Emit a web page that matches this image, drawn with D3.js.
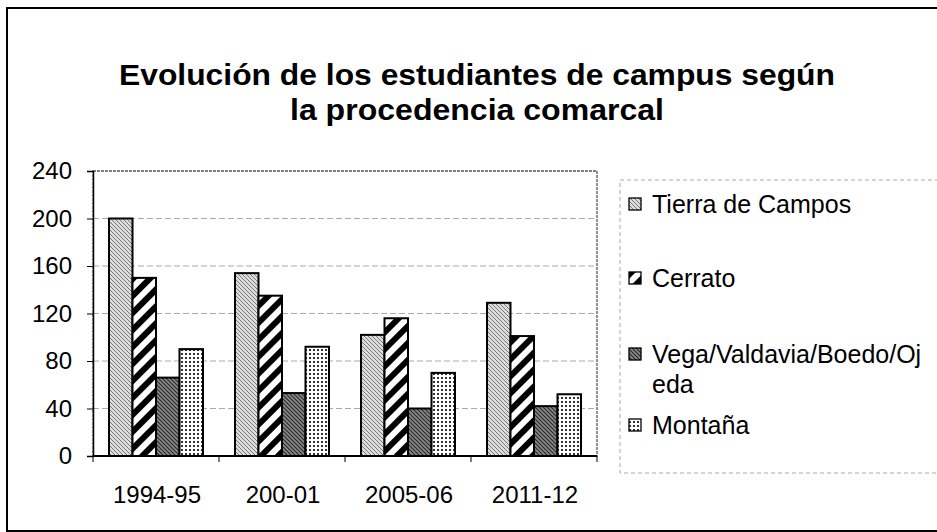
<!DOCTYPE html>
<html><head><meta charset="utf-8">
<script src="https://cdn.jsdelivr.net/npm/d3@7/dist/d3.min.js"></script>
<style>body{margin:0;background:#fff}svg{display:block}text{font-family:"Liberation Sans",Arial,sans-serif}</style>
</head><body><svg id="c" width="937" height="532"></svg>
<script>
const titleLines = ["Evolución de los estudiantes de campus según", "la procedencia comarcal"];
const categories = ["1994-95", "200-01", "2005-06", "2011-12"];
const seriesNames = ["Tierra de Campos", "Cerrato", "Vega/Valdavia/Boedo/Ojeda", "Montaña"];
const legendLines = [["Tierra de Campos"], ["Cerrato"], ["Vega/Valdavia/Boedo/Oj", "eda"], ["Montaña"]];
const tierra = [200, 154, 102, 129];
const cerrato = [150, 135, 116, 101];
const vega = [66, 53, 40, 42];
const montana = [90, 92, 70, 52];
const yTicks = [0, 40, 80, 120, 160, 200, 240];

const values = [tierra, cerrato, vega, montana];
const svg = d3.select("#c");
const defs = svg.append("defs");

// patterns
const p1 = defs.append("pattern").attr("id","pTierra").attr("width",4).attr("height",4).attr("patternUnits","userSpaceOnUse");
p1.append("rect").attr("width",4).attr("height",4).attr("fill","#dcdcdc");
p1.append("path").attr("d","M0,0 L4,4 M-1,3 L1,5 M3,-1 L5,1").attr("stroke","#7a7a7a").attr("stroke-width",1);
const p3 = defs.append("pattern").attr("id","pVega").attr("width",4).attr("height",4).attr("patternUnits","userSpaceOnUse");
p3.append("rect").attr("width",4).attr("height",4).attr("fill","#8a8a8a");
p3.append("path").attr("d","M0,0 L4,4 M-1,3 L1,5 M3,-1 L5,1").attr("stroke","#2a2a2a").attr("stroke-width",1.2);
const p2 = defs.append("pattern").attr("id","pCerrato").attr("width",12).attr("height",12).attr("patternUnits","userSpaceOnUse").attr("patternTransform","rotate(45)");
p2.append("rect").attr("width",12).attr("height",12).attr("fill","#fff");
p2.append("rect").attr("width",6).attr("height",12).attr("fill","#000");
const p4 = defs.append("pattern").attr("id","pMontana").attr("width",4).attr("height",4).attr("patternUnits","userSpaceOnUse");
p4.append("rect").attr("width",4).attr("height",4).attr("fill","#fff");
p4.append("rect").attr("x",1).attr("y",1).attr("width",2).attr("height",2).attr("fill","#333");
const fills = ["url(#pTierra)","url(#pCerrato)","url(#pVega)","url(#pMontana)"];

// outer frame
svg.append("rect").attr("x",7).attr("y",8).attr("width",935).attr("height",523)
  .attr("fill","none").attr("stroke","#000").attr("stroke-width",2);

// title
const titleW = [716, 374];
const titleY = [85, 120];
titleLines.forEach((t,i)=>{
  svg.append("text").attr("x",477).attr("y",titleY[i]).attr("text-anchor","middle")
    .attr("font-size",30).attr("font-weight","bold")
    .attr("textLength",titleW[i]).attr("lengthAdjust","spacingAndGlyphs").text(t);
});

const L = 93, R = 597, T = 171, B = 456;
const y = d3.scaleLinear().domain([0,240]).range([B,T]);
const x0 = d3.scaleBand().domain(categories).range([L,R]).paddingInner(0.254).paddingOuter(0.127);
const x1 = d3.scaleBand().domain(seriesNames).range([0,x0.bandwidth()]);

// gridlines
svg.append("g").selectAll("line").data(yTicks.filter(d=>d>0 && d<240)).join("line")
  .attr("x1",L).attr("x2",R).attr("y1",d=>y(d)).attr("y2",d=>y(d))
  .attr("stroke","#aaa").attr("stroke-width",1).attr("stroke-dasharray","6,3");

// plot area border
svg.append("rect").attr("x",L).attr("y",T).attr("width",R-L).attr("height",B-T)
  .attr("fill","none").attr("stroke","#555").attr("stroke-width",1.3).attr("stroke-dasharray","3,1");

// bars
const g = svg.append("g");
categories.forEach((c,i)=>{
  g.selectAll(null).data(seriesNames.map((s,j)=>({s,j,v:values[j][i]}))).join("rect")
    .attr("x",d=>x0(c)+x1(d.s)).attr("width",x1.bandwidth())
    .attr("y",d=>y(d.v)).attr("height",d=>y(0)-y(d.v))
    .attr("fill",d=>fills[d.j]).attr("stroke","#000").attr("stroke-width",2);
});

// y axis
const ya = svg.append("g").attr("transform",`translate(${L},0)`)
  .call(d3.axisLeft(y).tickValues(yTicks).tickSize(6).tickPadding(15));
ya.select(".domain").attr("stroke","#000").attr("stroke-width",1.5);
ya.selectAll("text").attr("font-size",24).attr("fill","#000").style("font-family","'Liberation Sans',Arial,sans-serif");

// x axis
svg.append("line").attr("x1",L).attr("x2",R).attr("y1",B).attr("y2",B).attr("stroke","#000").attr("stroke-width",2);
const bounds = categories.map(c=>x0(c)-x0.step()*x0.paddingInner()/2).concat([R]);
svg.append("g").selectAll("line").data(bounds).join("line")
  .attr("x1",d=>d).attr("x2",d=>d).attr("y1",B).attr("y2",B+6).attr("stroke","#000");
svg.append("g").selectAll("text").data(categories).join("text")
  .attr("x",d=>x0(d)+x0.bandwidth()/2+1).attr("y",503).attr("text-anchor","middle")
  .attr("font-size",24).text(d=>d);

// legend
svg.append("rect").attr("x",620).attr("y",180).attr("width",330).attr("height",293)
  .attr("fill","none").attr("stroke","#aaa").attr("stroke-width",1).attr("stroke-dasharray","4,3");
const legY = [204, 278, 354, 425];
legendLines.forEach((lines,j)=>{
  svg.append("rect").attr("x",629).attr("y",legY[j]-6).attr("width",12).attr("height",12)
    .attr("fill",fills[j]).attr("stroke","#000").attr("stroke-width",1.3);
  const t = svg.append("text").attr("x",652).attr("y",legY[j]+9).attr("font-size",25);
  lines.forEach((ln,k)=>t.append("tspan").attr("x",652).attr("dy",k?30:0).text(ln));
});
</script></body></html>
